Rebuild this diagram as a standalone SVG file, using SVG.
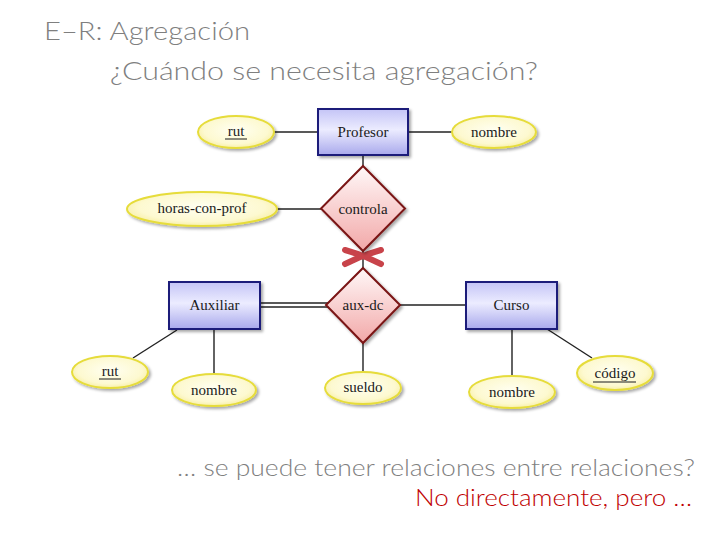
<svg xmlns="http://www.w3.org/2000/svg" width="720" height="540" viewBox="0 0 720 540">
<defs>
<radialGradient id="gAttr" cx="50%" cy="45%" r="60%">
<stop offset="0" stop-color="#fffff2"/>
<stop offset="0.7" stop-color="#fdf9d0"/>
<stop offset="1" stop-color="#f6ec98"/>
</radialGradient>
<linearGradient id="gEnt" x1="0" y1="0" x2="0" y2="1">
<stop offset="0" stop-color="#c4c4f6"/>
<stop offset="0.45" stop-color="#ececff"/>
<stop offset="1" stop-color="#a9a9ec"/>
</linearGradient>
<linearGradient id="gRel" x1="0" y1="0" x2="0" y2="1">
<stop offset="0" stop-color="#fff8f8"/>
<stop offset="1" stop-color="#f2a8a8"/>
</linearGradient>
<filter id="sh" x="-20%" y="-20%" width="150%" height="150%">
<feGaussianBlur in="SourceAlpha" stdDeviation="1.5"/>
<feOffset dx="2" dy="2" result="b"/>
<feComponentTransfer><feFuncA type="linear" slope="0.35"/></feComponentTransfer>
<feMerge><feMergeNode/><feMergeNode in="SourceGraphic"/></feMerge>
</filter>
</defs>
<style>
.attr{fill:url(#gAttr);stroke:#e6dc3a;stroke-width:2;filter:url(#sh)}
.ent{fill:url(#gEnt);stroke:#1c1c7a;stroke-width:2;filter:url(#sh)}
.rel{fill:url(#gRel);stroke:#7a1414;stroke-width:2;filter:url(#sh)}
.lbl{font-family:"Liberation Serif","Times New Roman",serif;font-size:15px;fill:#1a1a1a;text-anchor:middle}
.edge{stroke:#222;stroke-width:1.4;fill:none}
.ul{stroke:#1a1a1a;stroke-width:1}
.title{font-family:Lato,"Liberation Sans",sans-serif;font-weight:300;fill:#7f7f7f}
</style>
<rect width="720" height="540" fill="#ffffff"/>

<text class="title" x="44" y="40" font-size="25" textLength="206" lengthAdjust="spacingAndGlyphs">E–R: Agregación</text>
<text class="title" x="110" y="80" font-size="25" textLength="428" lengthAdjust="spacingAndGlyphs">¿Cuándo se necesita agregación?</text>

<g id="connectors">
<line class="edge" x1="274" y1="132" x2="318" y2="132"/>
<line class="edge" x1="408" y1="132" x2="452" y2="132"/>
<line class="edge" x1="363" y1="155" x2="363" y2="166"/>
<line class="edge" x1="277" y1="209" x2="321" y2="209"/>
<line class="edge" x1="363" y1="251" x2="363" y2="268"/>
<line class="edge" x1="260" y1="303" x2="328" y2="303"/>
<line class="edge" x1="260" y1="307" x2="328" y2="307"/>
<line class="edge" x1="400" y1="305" x2="466" y2="305"/>
<line class="edge" x1="177" y1="330" x2="133" y2="358"/>
<line class="edge" x1="214" y1="329" x2="214" y2="374"/>
<line class="edge" x1="363" y1="343" x2="363" y2="372"/>
<line class="edge" x1="512" y1="329" x2="512" y2="376"/>
<line class="edge" x1="547" y1="329" x2="592" y2="358"/>
</g>

<g id="cross">
<path d="M345,250 Q363,255 381,264" stroke="#c8434a" stroke-width="6" fill="none" stroke-linecap="round"/>
<path d="M345,264 Q363,255 381,250" stroke="#c8434a" stroke-width="6" fill="none" stroke-linecap="round"/>
</g>

<g id="profesor">
<rect class="ent" x="318" y="109" width="90" height="46"/>
<text class="lbl" x="363" y="137">Profesor</text>
</g>
<g id="rut1">
<ellipse class="attr" cx="236" cy="132" rx="38" ry="16"/>
<text class="lbl" x="236" y="136">rut</text>
<line class="ul" x1="225" y1="139" x2="247" y2="139"/>
</g>
<g id="nombre1">
<ellipse class="attr" cx="494" cy="132" rx="42" ry="16"/>
<text class="lbl" x="494" y="137">nombre</text>
</g>
<g id="controla">
<polygon class="rel" points="363,166 405,208.5 363,251 321,208.5"/>
<text class="lbl" x="363" y="214">controla</text>
</g>
<g id="horas">
<ellipse class="attr" cx="202" cy="209" rx="75" ry="17"/>
<text class="lbl" x="202" y="213">horas-con-prof</text>
</g>
<g id="auxdc">
<polygon class="rel" points="363,268 400,305 363,343 326,305"/>
<text class="lbl" x="363" y="310">aux-dc</text>
</g>
<g id="auxiliar">
<rect class="ent" x="169" y="282" width="91" height="47"/>
<text class="lbl" x="214.5" y="310">Auxiliar</text>
</g>
<g id="curso">
<rect class="ent" x="466" y="282" width="91" height="47"/>
<text class="lbl" x="511.5" y="310">Curso</text>
</g>
<g id="rut2">
<ellipse class="attr" cx="110" cy="372" rx="38" ry="16"/>
<text class="lbl" x="110" y="376">rut</text>
<line class="ul" x1="99" y1="379" x2="121" y2="379"/>
</g>
<g id="nombre2">
<ellipse class="attr" cx="214" cy="390" rx="42" ry="16"/>
<text class="lbl" x="214" y="395">nombre</text>
</g>
<g id="sueldo">
<ellipse class="attr" cx="363" cy="388" rx="38" ry="16"/>
<text class="lbl" x="363" y="392">sueldo</text>
</g>
<g id="nombre3">
<ellipse class="attr" cx="512" cy="392" rx="43" ry="16"/>
<text class="lbl" x="512" y="397">nombre</text>
</g>
<g id="codigo">
<ellipse class="attr" cx="615" cy="373" rx="38" ry="17"/>
<text class="lbl" x="615" y="378">código</text>
<line class="ul" x1="593" y1="382" x2="636" y2="382"/>
</g>

<text class="title" x="177" y="476" font-size="23" textLength="518" lengthAdjust="spacingAndGlyphs">… se puede tener relaciones entre relaciones?</text>
<text x="415" y="506" font-family="Lato,'Liberation Sans',sans-serif" font-weight="300" font-size="23" fill="#c00000" textLength="277" lengthAdjust="spacingAndGlyphs">No directamente, pero …</text>
</svg>
